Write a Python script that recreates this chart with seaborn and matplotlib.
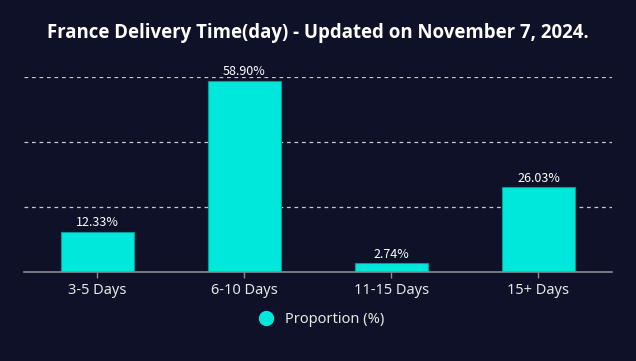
import matplotlib
matplotlib.use("Agg")
import matplotlib.pyplot as plt
import seaborn as sns
import pandas as pd
from matplotlib.lines import Line2D

# chart data
categories = ["3-5 Days", "6-10 Days", "11-15 Days", "15+ Days"]
proportions = [12.33, 58.90, 2.74, 26.03]
value_labels = ["12.33%", "58.90%", "2.74%", "26.03%"]

bg = "#0f1128"
bar_color = "#00e8dc"

df = pd.DataFrame({"range": categories, "prop": proportions})

sns.set_theme(style="dark")
plt.rcParams["font.family"] = ["Noto Sans", "DejaVu Sans"]

fig = plt.figure(figsize=(6.36, 3.61), dpi=100, facecolor=bg)
ax = fig.add_axes([0.0377, 0.2465, 0.9245, 0.5402])
ax.set_facecolor(bg)

sns.barplot(data=df, x="range", y="prop", color=bar_color, width=0.5,
            saturation=1, edgecolor="#0a9a94", linewidth=0.8, ax=ax, zorder=3)

ax.set_ylim(0, 60)
ax.set_xlim(-0.5, 3.5)
ax.set_yticks([20, 40, 60])
ax.set_yticklabels([])
ax.tick_params(axis="y", length=0)
ax.yaxis.grid(True, color="#c8c8c8", linestyle=(0, (3, 3)), linewidth=0.9)
ax.xaxis.grid(False)
for s in ["top", "right", "left"]:
    ax.spines[s].set_visible(False)
ax.spines["bottom"].set_color("#8a8a96")
ax.spines["bottom"].set_linewidth(1.2)
ax.spines["bottom"].set_zorder(4)
ax.tick_params(axis="x", colors="#8a8a96", length=4, width=1, direction="out",
               labelsize=10.5, labelcolor="#e6e6e6", pad=4, bottom=True)
ax.set_xlabel("")
ax.set_ylabel("")

for i, (v, lab) in enumerate(zip(proportions, value_labels)):
    ax.text(i, v + 0.8, lab, ha="center", va="bottom", color="white",
            fontsize=9, family=["Noto Sans CJK SC", "DejaVu Sans"])

fig.text(0.5, 0.908, "France Delivery Time(day) - Updated on November 7, 2024.",
         ha="center", va="center", color="white", fontsize=13.4, fontweight="bold",
         family=["Open Sans", "DejaVu Sans"])

handle = Line2D([], [], marker="o", linestyle="none", markersize=10,
                markerfacecolor=bar_color, markeredgecolor=bar_color)
fig.legend([handle], ["Proportion (%)"], loc="center", bbox_to_anchor=(0.5, 0.115),
           frameon=False, labelcolor="#e6e6e6", fontsize=10.5, handletextpad=0.3)

fig.savefig("out.png", dpi=100, facecolor=bg)
